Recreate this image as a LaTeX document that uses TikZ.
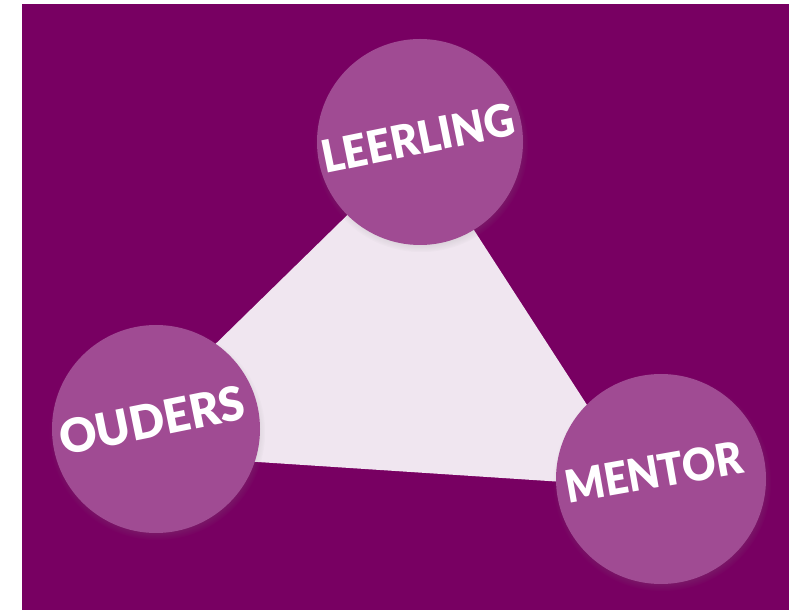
\documentclass[tikz,border=0pt]{standalone}
\usepackage{fontspec}
\setmainfont{Lato}[UprightFont=* Black]
\usetikzlibrary{shadows,calc}
\definecolor{bgpurple}{HTML}{780062}
\definecolor{bubblecol}{HTML}{A04B93}
\definecolor{tricol}{HTML}{F0E6F0}
\tikzset{
  bubble/.style={circle, fill=bubblecol, minimum size=#1, inner sep=0pt,
    circular drop shadow={shadow xshift=1pt, shadow yshift=-3pt, shadow scale=1.04, opacity=0.35}},
  lbl/.style={text=white, inner sep=0pt, font=\fontsize{42}{42}\selectfont}
}
\begin{document}
\begin{tikzpicture}[x=1pt,y=1pt]
\useasboundingbox (0,0) rectangle (800,610);
\fill[white] (0,0) rectangle (800,610);
\fill[bgpurple] (22,0) rectangle (789,606);
% triangle
\coordinate (tA) at (419,465);
\coordinate (tB) at (105,158);
\coordinate (tC) at (640,123);
\fill[tricol] (tA) -- (tB) -- (tC) -- cycle;
% circles
\node[bubble=206pt] (leerling) at (420,468) {};
\node[bubble=208pt] (ouders) at (156,181) {};
\node[bubble=210pt] (mentor) at (661,131) {};
% labels
\node[lbl, rotate=11.5] (tl) at ($(leerling)+(-2,4)$) {\scalebox{1.0}[1.07]{LEERLING}};
\node[lbl, rotate=11.5] (to) at ($(ouders)+(-4,9)$) {\scalebox{1.09}[1.12]{OUDERS}};
\node[lbl, rotate=10] (tm) at ($(mentor)+(-7,7)$) {\scalebox{0.98}[1.07]{MENTOR}};
\end{tikzpicture}
\end{document}
